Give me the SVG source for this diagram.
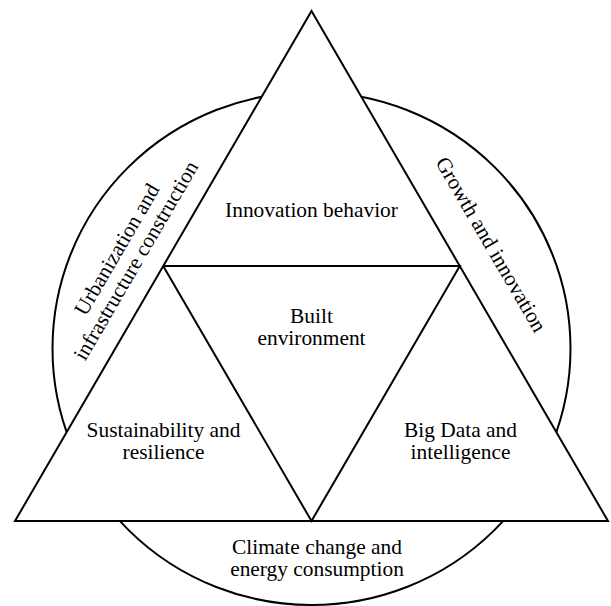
<svg xmlns="http://www.w3.org/2000/svg" width="611" height="606" viewBox="0 0 611 606">
  <style>
    .shape { fill: #ffffff; stroke: #000000; stroke-width: 2; stroke-linejoin: miter; }
    .edge { fill: none; stroke: #000000; stroke-width: 2; }
    .label { font-family: "Liberation Serif", "Times New Roman", serif; font-size: 21.4px; fill: #000000; text-anchor: middle; }
  </style>
  <rect width="611" height="606" fill="#ffffff"/>

  <!-- outer ring behind the triangle -->
  <g id="ring">
    <ellipse class="shape" cx="311.5" cy="348.5" rx="259" ry="256.5"/>
  </g>

  <!-- big triangle -->
  <g id="outer-triangle">
    <polygon class="shape" points="311.5,11 15,521 608,521"/>
  </g>

  <!-- inverted inner triangle splitting the big one into four parts -->
  <g id="dividers">
    <polyline class="edge" points="163.2,266 459.8,266 311.5,521 163.2,266"/>
  </g>

  <g id="innovation-behavior">
    <text class="label" x="311.5" y="217">Innovation behavior</text>
  </g>

  <g id="built-environment">
    <text class="label" x="311.5" y="323">Built</text>
    <text class="label" x="311.5" y="345">environment</text>
  </g>

  <g id="sustainability">
    <text class="label" x="163.5" y="437">Sustainability and</text>
    <text class="label" x="163.5" y="459">resilience</text>
  </g>

  <g id="big-data">
    <text class="label" x="460.5" y="437">Big Data and</text>
    <text class="label" x="460.5" y="459">intelligence</text>
  </g>

  <g id="climate-change">
    <text class="label" x="317" y="554">Climate change and</text>
    <text class="label" x="317" y="575.5">energy consumption</text>
  </g>

  <g id="urbanization" transform="translate(123,253) rotate(-59.8)">
    <text class="label" x="0" y="0">Urbanization and</text>
    <text class="label" x="0" y="22">infrastructure construction</text>
  </g>

  <g id="growth-innovation" transform="translate(485,248) rotate(59.8)">
    <text class="label" x="0" y="0">Growth and innovation</text>
  </g>
</svg>
